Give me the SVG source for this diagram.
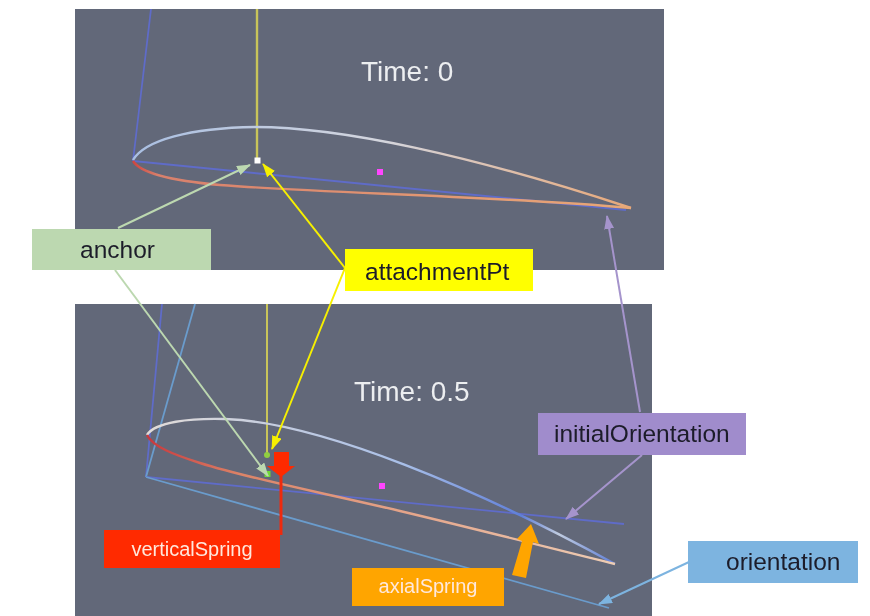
<svg xmlns="http://www.w3.org/2000/svg" width="870" height="616" viewBox="0 0 870 616">
<style>
.lab{font-family:"Liberation Sans",Arial,sans-serif;font-size:24.500px;fill:#1d1d2a}
.labw{font-family:"Liberation Sans",Arial,sans-serif;font-size:20px;fill:#ffe8dc;text-anchor:middle}
.time{font-family:"Liberation Sans",Arial,sans-serif;font-size:28px;fill:#eceef0}
.c{fill:none}
</style>
<defs>
<filter id="soft" x="-2%" y="-2%" width="104%" height="104%"><feGaussianBlur stdDeviation="0.7"/></filter>
<linearGradient id="up" x1="0" x2="1" y1="0" y2="0"><stop offset="0" stop-color="#a9bfe2"/><stop offset=".5" stop-color="#d4d6de"/><stop offset="1" stop-color="#e8a878"/></linearGradient>
<linearGradient id="lo" x1="0" x2="1" y1="0" y2="0"><stop offset="0" stop-color="#d0453f"/><stop offset=".05" stop-color="#d8806c"/><stop offset="1" stop-color="#e8a878"/></linearGradient>
<linearGradient id="up2" x1="0" x2="1" y1="0" y2="0"><stop offset="0" stop-color="#e2dcd8"/><stop offset=".55" stop-color="#a8bfe8"/><stop offset=".8" stop-color="#5f7fd8"/><stop offset=".88" stop-color="#c0cce0"/><stop offset="1" stop-color="#5f7fd8"/></linearGradient>
<linearGradient id="lo2" x1="0" x2="1" y1="0" y2="0"><stop offset="0" stop-color="#c8383c"/><stop offset=".2" stop-color="#dc8468"/><stop offset="1" stop-color="#eecdb4"/></linearGradient>
<marker id="aG" markerWidth="20" markerHeight="14" refX="13" refY="5" orient="auto" markerUnits="userSpaceOnUse"><path d="M0 0L14 5L0 10z" fill="#bcd8b0"/></marker>
<marker id="aY" markerWidth="20" markerHeight="14" refX="13" refY="5" orient="auto" markerUnits="userSpaceOnUse"><path d="M0 0L14 5L0 10z" fill="#f6f000"/></marker>
<marker id="aP" markerWidth="20" markerHeight="14" refX="13" refY="5" orient="auto" markerUnits="userSpaceOnUse"><path d="M0 0L14 5L0 10z" fill="#a594cc"/></marker>
<marker id="aB" markerWidth="20" markerHeight="14" refX="13" refY="5" orient="auto" markerUnits="userSpaceOnUse"><path d="M0 0L14 5L0 10z" fill="#7db4e0"/></marker>
</defs>
<rect width="870" height="616" fill="#fff"/>
<g filter="url(#soft)">
<g id="panel-top">
<rect x="75" y="9" width="589" height="261" fill="#626779"/>
<text class="time" x="361" y="81">Time: 0</text>
<path class="c" d="M151 9L133 161" stroke="#5f6cc8" stroke-width="1.800"/>
<path class="c" d="M133 161L626 210" stroke="#5f6cc8" stroke-width="1.800"/>
<path class="c" d="M257 9V159" stroke="#c8c45a" stroke-width="2.400"/>
<path class="c" d="M133 160C145 140 190 128 255 127C340 127 470 155 631 208" stroke="url(#up)" stroke-width="2.400"/>
<path class="c" d="M133 161C141 174 175 181 220 185C320 193 500 196 631 208" stroke="url(#lo)" stroke-width="2.400"/>
<rect x="254.500" y="157.500" width="6" height="6" fill="#fff"/>
<rect x="377" y="169" width="6" height="6" fill="#ff44ff"/>
</g>
<g id="panel-bottom">
<rect x="75" y="304" width="577" height="312" fill="#626779"/>
<text class="time" x="354" y="401">Time: 0.5</text>
<path class="c" d="M162 304L146 477" stroke="#5f6cc8" stroke-width="1.800"/>
<path class="c" d="M195 304L146 477" stroke="#6a9ccc" stroke-width="1.800"/>
<path class="c" d="M146 477L624 524" stroke="#5f6cc8" stroke-width="1.800"/>
<path class="c" d="M146 477L609 608" stroke="#6a9ccc" stroke-width="1.800"/>
<path class="c" d="M267 304V455" stroke="#c8c45a" stroke-width="2"/>
<path class="c" d="M147 435C155 422 190 418 225 419C320 422 480 490 615 564" stroke="url(#up2)" stroke-width="2.400"/>
<path class="c" d="M147 435C153 447 175 455 200 463C250 479 320 492 400 511C480 530 550 548 615 564" stroke="url(#lo2)" stroke-width="2.400"/>
<circle cx="267" cy="455" r="3" fill="#90d040"/>
<rect x="264.500" y="471" width="6" height="6" fill="#70d838"/>
<rect x="379" y="483" width="6" height="6" fill="#ff44ff"/>
</g>
<g id="connectors">
<path class="c" d="M118 228L250 165" stroke="#bcd8b0" stroke-width="2" marker-end="url(#aG)"/>
<path class="c" d="M115 270L268 476" stroke="#bcd8b0" stroke-width="2" marker-end="url(#aG)"/>
<path class="c" d="M345 268L263 164" stroke="#f6f000" stroke-width="2" marker-end="url(#aY)"/>
<path class="c" d="M345 268L272 449" stroke="#f6f000" stroke-width="2" marker-end="url(#aY)"/>
<path class="c" d="M640 412L607 216" stroke="#a594cc" stroke-width="2" marker-end="url(#aP)"/>
<path class="c" d="M642 455L566 519" stroke="#a594cc" stroke-width="2" marker-end="url(#aP)"/>
<path class="c" d="M689 562L599 604" stroke="#7db4e0" stroke-width="2" marker-end="url(#aB)"/>
<path d="M281 476V535" stroke="#ee2a10" stroke-width="3" fill="none"/>
<path d="M274 452H289V466H295L281 477L267 466H274z" fill="#ff2a00"/>
<path d="M512 575L522 541L517 539L531 524L539 544L533 542L526 578z" fill="#ffa500"/>
</g>
<g id="anchor"><rect x="32" y="229" width="179" height="41" fill="#bcd8b0"/><text class="lab" x="80" y="258">anchor</text></g>
<g id="attachmentPt"><rect x="345" y="249" width="188" height="42" fill="#ffff00"/><text class="lab" x="365" y="280">attachmentPt</text></g>
<g id="initialOrientation"><rect x="538" y="413" width="208" height="42" fill="#a08ccc"/><text class="lab" x="554" y="442">initialOrientation</text></g>
<g id="orientation"><rect x="688" y="541" width="170" height="42" fill="#7db4e0"/><text class="lab" x="726" y="570">orientation</text></g>
<g id="verticalSpring"><rect x="104" y="530" width="176" height="38" fill="#ff2a00"/><text class="labw" x="192" y="556">verticalSpring</text></g>
<g id="axialSpring"><rect x="352" y="568" width="152" height="38" fill="#ffa500"/><text class="labw" x="428" y="593">axialSpring</text></g>
</g>
</svg>
